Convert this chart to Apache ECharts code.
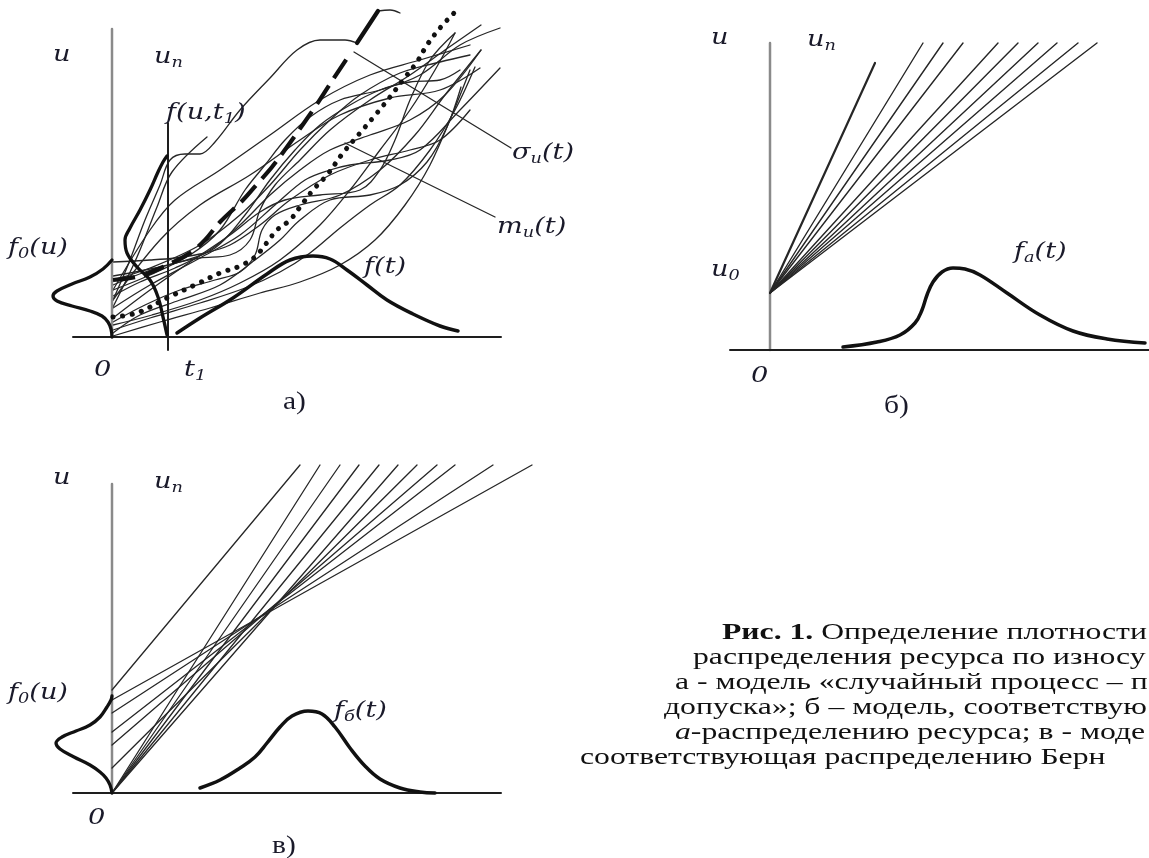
<!DOCTYPE html>
<html><head><meta charset="utf-8">
<script src="https://cdn.jsdelivr.net/npm/echarts@6/dist/echarts.min.js"></script>
<style>html,body{margin:0;padding:0;background:#fff}#c{width:1149px;height:858px}</style>
</head><body><div id="c"></div>
<script>
// ===== Panel а) : origin at the intersection of the u and t axes =====
const aAxisU = [[0,0],[0,308]];
const aAxisT = [[-39,0],[389,0]];
const aT1 = [[56,-13],[56,214]];
const aF0 = [[0,0],[-1,8],[-4,15],[-10,21],[-22,26],[-40,31],[-55,36],[-59,41],[-55,46],[-40,53],[-22,60],[-9,68],[0,77]];
const aFut1 = [[55,2],[51,20],[46,40],[38,57],[25,70],[15,84],[13,97],[18,109],[28,127],[38,147],[46,165],[51,175],[55,181]];
const aFt = [[65,4],[88,19],[121,39],[155,63],[178,77],[201,81],[218,78],[235,67],[255,52],[275,37],[301,23],[328,11],[346,6]];
const aMean = [[1,20],[25,24],[55,39],[85,53],[108,64],[128,71],[143,80],[153,92],[165,107],[178,117],[188,130],[201,147],[215,162],[231,184],[248,204],[265,224],[278,240],[291,257],[305,275],[315,292],[328,309],[343,325]];
const aSigma = [[1,57],[28,61],[53,71],[78,84],[93,97],[108,115],[131,137],[146,154],[160,170],[180,197],[203,230],[218,253],[236,280]];
const aSigmaTop = [[245,294],[266,326]];
const aSigmaEnd = [[266,326],[278,327],[288,324]];
const aLeadSigma = [[242,285],[399,189]];
const aLeadMean = [[233,194],[383,120]];
const aPath1 = [[1,37],[16,72],[33,117],[48,152],[58,177],[73,183],[88,183],[103,195],[128,227],[158,259],[185,287],[208,297],[233,297],[245,294]];
const aPath2 = [[1,30],[25,80],[45,130],[60,165],[95,200]];
const aPath3 = [[1,1],[48,15],[98,29],[148,44],[188,55],[228,72],[263,97],[293,132],[318,172],[340,222],[358,267]];
const aPath4 = [[1,7],[38,19],[88,34],[133,49],[168,65],[198,84],[228,109],[258,132],[288,152],[318,187],[343,227],[363,270]];
const aPath5 = [[1,15],[33,32],[68,47],[103,57],[128,65],[143,82],[150,107],[163,122],[188,132],[228,142],[268,167],[303,202],[333,242],[369,287]];
const aPath6 = [[1,19],[38,47],[78,75],[118,102],[148,125],[173,137],[208,142],[248,147],[268,167],[283,197],[298,237],[318,277],[343,304]];
const aPath7 = [[1,29],[38,52],[88,79],[128,102],[163,132],[193,157],[218,167],[238,172],[278,177],[308,187],[348,227],[388,269]];
const aPath8 = [[1,41],[28,55],[63,69],[98,87],[128,112],[158,142],[188,167],[218,187],[258,202],[298,217],[333,242],[369,287]];
const aPath9 = [[1,47],[38,62],[78,82],[108,107],[133,147],[153,172],[173,197],[198,220],[228,237],[268,247],[308,262],[348,292],[388,309]];
const aPath10 = [[1,52],[33,65],[63,74],[88,79],[118,82],[138,97],[148,127],[163,152],[188,177],[218,207],[258,237],[298,262],[333,287],[369,312]];
const aPath11 = [[1,57],[38,69],[88,92],[128,122],[158,152],[188,187],[218,217],[248,242],[288,264],[328,275],[358,282]];
const aPath12 = [[1,61],[33,67],[68,75],[103,89],[133,122],[158,157],[183,187],[208,212],[238,232],[268,247],[298,255],[328,257],[348,267]];
const aPath13 = [[1,4],[28,22],[68,37],[108,52],[143,77],[168,97],[188,117],[218,137],[258,142],[288,152],[315,175],[335,210],[349,250]];
const aPath14 = [[1,12],[40,22],[88,37],[128,54],[168,77],[208,112],[238,147],[268,187],[298,227],[323,267],[343,304]];
const aPath15 = [[1,75],[38,77],[63,79],[88,83],[118,92],[148,112],[178,137],[218,162],[258,177],[298,187],[328,197],[358,227]];
const aPath16 = [[1,47],[38,107],[63,137],[108,167],[158,202],[208,237],[258,262],[308,277],[358,292]];
const aPath17 = [[1,37],[48,97],[88,132],[138,162],[188,197],[228,222],[278,239],[328,247],[368,269]];
const aPaths = [aPath1,aPath2,aPath3,aPath4,aPath5,aPath6,aPath7,aPath8,aPath9,aPath10,aPath11,aPath12,aPath13,aPath14,aPath15,aPath16,aPath17];

// ===== Panel б) =====
const bAxisU = [[0,0],[0,307]];
const bAxisT = [[-40,0],[379,0]];
const bU0 = [0,57];
const bEndX = [105,153,173,193,228,248,268,287,308,327];
const bEndY = [287,307,307,307,307,307,307,307,307,307];
const bFa = [[73,3],[107,8],[130,15],[145,27],[152,40],[157,55],[163,68],[172,78],[183,82],[195,81],[210,75],[237,57],[270,35],[303,19],[337,11],[375,7]];

// ===== Panel в) =====
const vAxisU = [[0,0],[0,309]];
const vAxisT = [[-39,0],[389,0]];
const vStartY = [103,93,80,61,48,25,0,0,0,0,0];
const vEndX = [188,420,381,343,325,305,208,228,247,267,286];
const vTopY = 328;
const vF0 = [[0,0],[-2,8],[-6,15],[-12,21],[-22,28],[-38,36],[-52,44],[-56,50],[-50,56],[-36,62],[-22,68],[-12,76],[-5,86],[-1,93],[0,97]];
const vFb = [[88,5],[108,13],[128,25],[143,36],[155,50],[168,66],[180,77],[196,82],[210,79],[223,66],[238,45],[253,27],[268,14],[288,5],[308,1],[323,0]];

// ===== Caption =====
const capLines = [
  '{b|Рис. 1.} Определение плотности',
  'распределения ресурса по износу',
  'а - модель «случайный процесс – п',
  'допуска»; б – модель, соответствую',
  '{i|а}-распределению ресурса; в - моде',
  'соответствующая распределению Берн'
];
const capX = [722,693,675,664,675,580];
const capY = [633,658,683,708,733,758];

const series = [];
function add(data, g, width, color, extra) {
  const s = {type:'line', xAxisIndex:g, yAxisIndex:g, data:data, symbol:'none', silent:true, clip:false,
    smooth:0, animation:false, lineStyle:{color:color, width:width, cap:'round', join:'round'}};
  if (extra) {
    if (extra.smooth !== undefined) s.smooth = extra.smooth;
    if (extra.type) s.lineStyle.type = extra.type;
    if (extra.cap) s.lineStyle.cap = extra.cap;
    if (extra.z) s.z = extra.z;
  }
  series.push(s);
}
const INK = '#1e1e1e';
const THIN = '#262626';
// panel a
aPaths.forEach(p => add(p, 0, 1.3, THIN, {smooth:0.35}));
add(aLeadSigma, 0, 1.3, THIN);
add(aLeadMean, 0, 1.3, THIN);
add(aAxisU, 0, 2.5, '#8a8a8a');
add(aAxisT, 0, 2, INK);
add(aT1, 0, 2, INK);
add(aF0, 0, 3.3, '#111', {smooth:0.4, z:4});
add(aFut1, 0, 3.3, '#111', {smooth:0.4, z:4});
add(aFt, 0, 3.5, '#111', {smooth:0.4, z:4});
add(aMean, 0, 5, '#111', {smooth:0.35, type:[0.1,9.5], cap:'round', z:4});
add(aSigma, 0, 4.2, '#111', {smooth:0.35, type:[22,9], cap:'butt', z:4});
add(aSigmaTop, 0, 4.2, '#111', {z:4});
add(aSigmaEnd, 0, 1.3, THIN, {smooth:0.4});
// panel b
add(bAxisU, 1, 2.5, '#8a8a8a');
add(bAxisT, 1, 2, INK);
bEndX.forEach((x,i) => add([bU0,[x,bEndY[i]]], 1, i === 0 ? 2.2 : 1.4, THIN));
add(bFa, 1, 3.5, '#111', {smooth:0.4, z:4});
// panel v
add(vAxisU, 2, 2.5, '#8a8a8a');
add(vAxisT, 2, 2, INK);
vEndX.forEach((x,i) => add([[0,vStartY[i]],[x,vTopY]], 2, 1.3, THIN));
add(vF0, 2, 3.3, '#111', {smooth:0.4, z:4});
add(vFb, 2, 3.5, '#111', {smooth:0.4, z:4});

const FF = 'DejaVu Serif';
const CF = 'Liberation Serif';
const LC = '#1a1a2a';
const SX = 1.18;
function lbl(x, y, text, upright) {
  return {type:'text', x:x, y:y, scaleX:SX, silent:true, z:10,
    style:{text:text, fontFamily: upright ? CF : FF, fontStyle: upright ? 'normal' : 'italic', fontSize: upright ? 25 : 23, lineHeight:28,
      fill:LC, align:'left', verticalAlign:'middle',
      rich:{s:{fontFamily:FF, fontStyle:'italic', fontSize:15, lineHeight:13, fill:LC, verticalAlign:'bottom'}}}};
}
const graphic = [
  lbl(53,55,'u'), lbl(154,57,'u{s|n}'), lbl(166,113,'f(u,t{s|1})'), lbl(512,153,'σ{s|u}(t)'),
  lbl(497,227,'m{s|u}(t)'), lbl(8,248,'f{s|0}(u)'), lbl(364,267,'f(t)'), lbl(94,370,'0'),
  lbl(184,370,'t{s|1}'), lbl(283,402,'a)', true),
  lbl(711,38,'u'), lbl(807,40,'u{s|n}'), lbl(711,270,'u{s|0}'), lbl(751,376,'0'),
  lbl(884,406,'б)', true), lbl(1014,252,'f{s|a}(t)'),
  lbl(53,478,'u'), lbl(154,482,'u{s|n}'), lbl(8,693,'f{s|0}(u)'), lbl(334,711,'f{s|б}(t)'),
  lbl(88,818,'0'), lbl(272,846,'в)', true)
];
capLines.forEach((t,i) => graphic.push({type:'text', x:capX[i], y:capY[i], scaleX:1.32, silent:true, z:10,
  style:{text:t, fontFamily:CF, fontSize:24, lineHeight:26, fill:'#111', align:'left', verticalAlign:'middle',
    rich:{b:{fontFamily:CF, fontWeight:'bold', fontSize:24, fill:'#111'}, i:{fontFamily:CF, fontStyle:'italic', fontSize:24, fill:'#111'}}}}));

const chart = echarts.init(document.getElementById('c'), null, {renderer:'canvas'});
chart.setOption({
  animation:false,
  backgroundColor:'#ffffff',
  grid:[
    {left:40, top:0, width:520, height:360},
    {left:700, top:0, width:449, height:380},
    {left:0, top:440, width:580, height:380}
  ],
  xAxis:[
    {type:'value', gridIndex:0, min:-72, max:448, show:false},
    {type:'value', gridIndex:1, min:-70, max:379, show:false},
    {type:'value', gridIndex:2, min:-112, max:468, show:false}
  ],
  yAxis:[
    {type:'value', gridIndex:0, min:-23, max:337, show:false},
    {type:'value', gridIndex:1, min:-30, max:350, show:false},
    {type:'value', gridIndex:2, min:-27, max:353, show:false}
  ],
  series:series,
  graphic:graphic
});
</script>
</body></html>
